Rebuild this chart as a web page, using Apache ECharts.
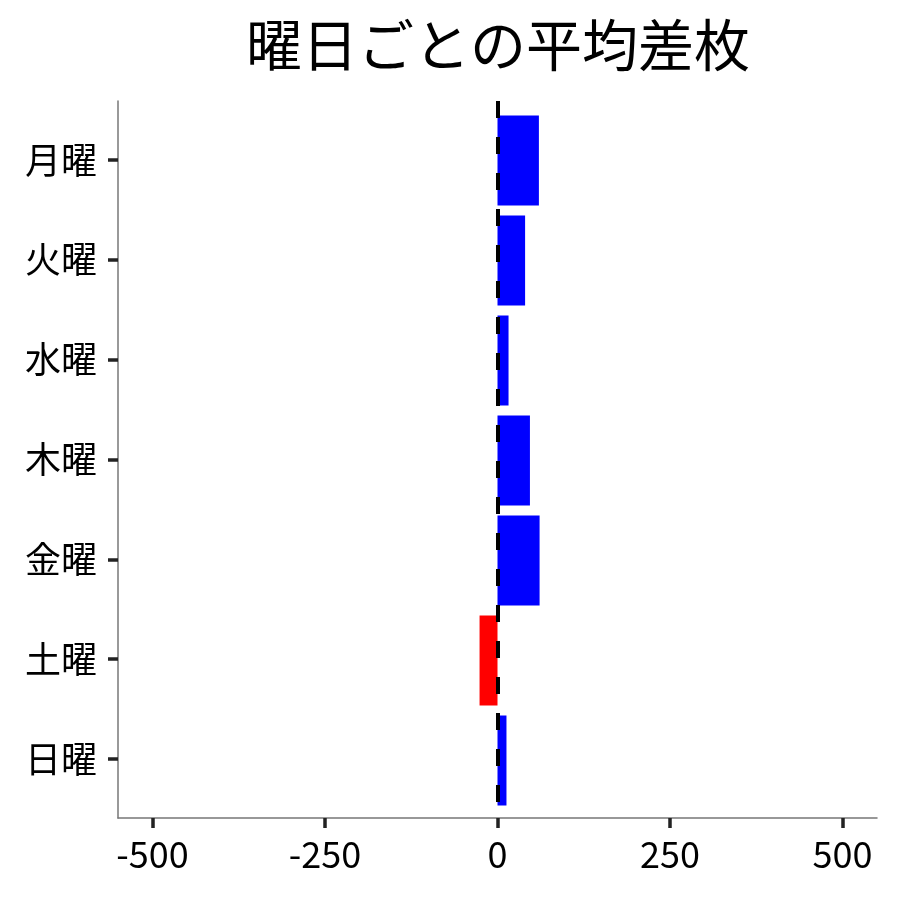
<!DOCTYPE html>
<html>
<head>
<meta charset="utf-8">
<script src="https://cdn.jsdelivr.net/npm/echarts@6/dist/echarts.min.js"></script>
<style>
  html, body { margin: 0; padding: 0; background: #fff; }
  #chart { width: 900px; height: 900px; }
</style>
</head>
<body>
<div id="chart"></div>
<script>
// 曜日ごとの平均差枚
const days = ['月曜', '火曜', '水曜', '木曜', '金曜', '土曜', '日曜']
const avgDiff = [60, 40, 16, 47, 61, -26, 13]
const xTicks = [-500, -250, 0, 250, 500]
const dayIndex = [0, 1, 2, 3, 4, 5, 6]

const font = '"Noto Sans CJK JP", "Noto Sans", sans-serif'
const chart = echarts.init(document.getElementById('chart'))

const option = {
  backgroundColor: '#fff',
  animation: false,
  title: {
    text: '曜日ごとの平均差枚',
    left: 493,
    textAlign: 'center',
    top: 12,
    textStyle: {
      color: '#000',
      fontSize: 56,
      fontWeight: 'normal',
      fontFamily: font
    }
  },
  grid: [
    // 軸を描く枠
    { left: 118, right: 23, top: 101, bottom: 82 },
    // 棒を描く枠
    { left: 118, right: 23, top: 110.5, height: 700 }
  ],
  xAxis: [
    {
      type: 'value',
      gridIndex: 0,
      min: -550,
      max: 550,
      axisLine: { show: true, onZero: false, lineStyle: { color: '#777', width: 1.5 } },
      axisTick: { show: true, customValues: xTicks, length: 10, lineStyle: { color: '#222', width: 3.5 } },
      axisLabel: { customValues: xTicks, margin: 18, color: '#000', fontSize: 36, fontFamily: font },
      splitLine: { show: false }
    },
    {
      type: 'value',
      gridIndex: 1,
      min: -550,
      max: 550,
      show: false
    }
  ],
  yAxis: [
    {
      type: 'value',
      gridIndex: 0,
      min: -0.59,
      max: 6.59,
      inverse: true,
      axisLine: { show: true, onZero: false, lineStyle: { color: '#777', width: 1.5 } },
      axisTick: { show: true, customValues: dayIndex, length: 10, lineStyle: { color: '#222', width: 3.5 } },
      axisLabel: {
        customValues: dayIndex,
        margin: 21,
        color: '#000',
        fontSize: 36,
        fontFamily: font,
        formatter: function(v) {
          return days[Math.round(v)]
        }
      },
      splitLine: { show: false }
    },
    {
      type: 'category',
      gridIndex: 1,
      data: days,
      inverse: true,
      show: false
    }
  ],
  series: [
    {
      // 0 の破線
      type: 'line',
      xAxisIndex: 0,
      yAxisIndex: 0,
      data: [],
      z: 1,
      silent: true,
      markLine: {
        silent: true,
        symbol: 'none',
        label: { show: false },
        lineStyle: { color: '#000', width: 4, type: [17, 19], dashOffset: 0 },
        data: [{ xAxis: 0 }]
      }
    },
    {
      type: 'bar',
      xAxisIndex: 1,
      yAxisIndex: 1,
      barWidth: 90,
      z: 3,
      data: avgDiff.map(v => ({
        value: v,
        itemStyle: { color: v >= 0 ? '#0000ff' : '#ff0000' }
      }))
    }
  ]
}

chart.setOption(option)
</script>
</body>
</html>
